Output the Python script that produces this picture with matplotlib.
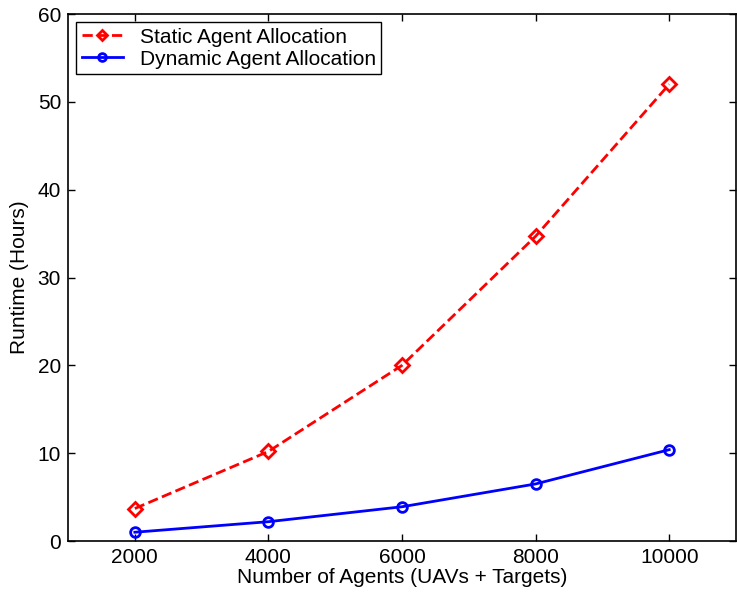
import matplotlib
matplotlib.use("Agg")
import matplotlib.pyplot as plt

agents = [2000, 4000, 6000, 8000, 10000]
static_hours = [3.7, 10.2, 20.0, 34.7, 52.0]
dynamic_hours = [1.0, 2.2, 3.9, 6.5, 10.4]

plt.rcParams['font.family'] = ['Liberation Sans', 'DejaVu Sans']
plt.rcParams['font.size'] = 15

fig = plt.figure(figsize=(7.37, 5.99), dpi=100)
ax = fig.add_axes([0.0923, 0.0968, 0.9064, 0.8798])

ax.plot(agents, static_hours, 'r--', marker='D', mfc='none', mew=2, ms=7,
        lw=2, label='Static Agent Allocation')
ax.plot(agents, dynamic_hours, 'b-', marker='o', mfc='none', mew=2, ms=7,
        lw=2, label='Dynamic Agent Allocation')

ax.set_xlim(1000, 11000)
ax.set_ylim(0, 60)
ax.set_xticks(agents)
ax.set_yticks([0, 10, 20, 30, 40, 50, 60])
ax.tick_params(direction='in', top=True, right=True, length=5, width=1, pad=5)
for s in ax.spines.values():
    s.set_linewidth(1.2)

ax.set_xlabel('Number of Agents (UAVs + Targets)', labelpad=1)
ax.set_ylabel('Runtime (Hours)', labelpad=6)

leg = ax.legend(loc='upper left', fancybox=False, framealpha=1, edgecolor='black',
                borderaxespad=0.4, handlelength=2.0, borderpad=0.25, labelspacing=0.15,
                markerscale=0.8)
leg.get_frame().set_linewidth(1.0)

fig.savefig('out.png', dpi=100)
